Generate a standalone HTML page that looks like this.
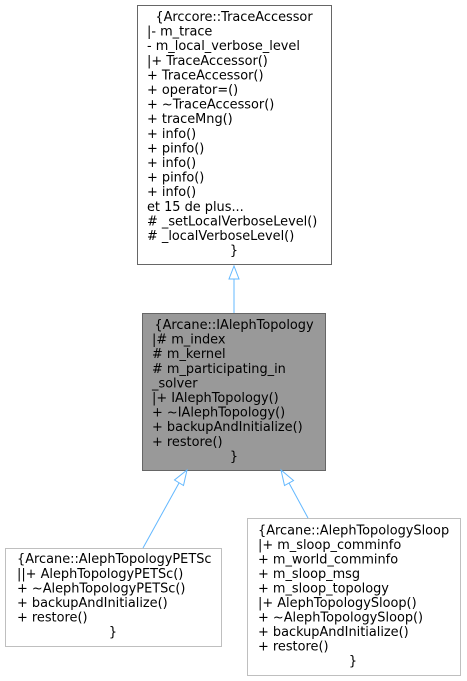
<!DOCTYPE html>
<html><head><meta charset="utf-8"><style>html,body{margin:0;padding:0;background:#fff}svg{display:block}text{font-family:"DejaVu Sans","Liberation Sans",sans-serif;font-size:12.9px;fill:#000}</style></head>
<body>
<svg width="467" height="681" viewBox="0 0 467 681" xmlns="http://www.w3.org/2000/svg">
<rect x="137.5" y="5.5" width="194" height="259" fill="#fff" stroke="#666"/>
<text x="234" y="21" text-anchor="middle">{Arccore::TraceAccessor</text>
<text x="147" y="35.6">|- m_trace</text>
<text x="147" y="50.2">- m_local_verbose_level</text>
<text x="147" y="64.8">|+ TraceAccessor()</text>
<text x="147" y="79.4">+ TraceAccessor()</text>
<text x="147" y="94">+ operator=()</text>
<text x="147" y="108.6">+ ~TraceAccessor()</text>
<text x="147" y="123.2">+ traceMng()</text>
<text x="147" y="137.8">+ info()</text>
<text x="147" y="152.4">+ pinfo()</text>
<text x="147" y="167">+ info()</text>
<text x="147" y="181.6">+ pinfo()</text>
<text x="147" y="196.2">+ info()</text>
<text x="147" y="210.8">et 15 de plus...</text>
<text x="147" y="225.4"># _setLocalVerboseLevel()</text>
<text x="147" y="240"># _localVerboseLevel()</text>
<text x="234" y="254.6" text-anchor="middle">}</text>

<rect x="142.5" y="313.5" width="183" height="157" fill="#999" stroke="#666"/>
<text x="234" y="329" text-anchor="middle">{Arcane::IAlephTopology</text>
<text x="152" y="343.6">|# m_index</text>
<text x="152" y="358.2"># m_kernel</text>
<text x="152" y="372.8"># m_participating_in</text>
<text x="152" y="387.4">_solver</text>
<text x="152" y="402">|+ IAlephTopology()</text>
<text x="152" y="416.6">+ ~IAlephTopology()</text>
<text x="152" y="431.2">+ backupAndInitialize()</text>
<text x="152" y="445.8">+ restore()</text>
<text x="234" y="460.4" text-anchor="middle">}</text>

<rect x="5.5" y="548.5" width="216" height="98" fill="#fff" stroke="#bfbfbf"/>
<text x="17" y="563">{Arcane::AlephTopologyPETSc</text>
<text x="17" y="578">||+ AlephTopologyPETSc()</text>
<text x="17" y="592.5">+ ~AlephTopologyPETSc()</text>
<text x="17" y="607">+ backupAndInitialize()</text>
<text x="17" y="621.5">+ restore()</text>
<text x="113" y="636" text-anchor="middle">}</text>

<rect x="247.5" y="518.5" width="213" height="157" fill="#fff" stroke="#bfbfbf"/>
<text x="258" y="534.5">{Arcane::AlephTopologySloop</text>
<text x="258" y="549">|+ m_sloop_comminfo</text>
<text x="258" y="563.5">+ m_world_comminfo</text>
<text x="258" y="578">+ m_sloop_msg</text>
<text x="258" y="592.5">+ m_sloop_topology</text>
<text x="258" y="607">|+ AlephTopologySloop()</text>
<text x="258" y="621.5">+ ~AlephTopologySloop()</text>
<text x="258" y="636">+ backupAndInitialize()</text>
<text x="258" y="650.5">+ restore()</text>
<text x="353" y="665" text-anchor="middle">}</text>

<g stroke="#63b8ff" fill="#fff" stroke-width="1">
<line x1="234" y1="313" x2="234" y2="279"/>
<polygon points="234,266 229,279 239,279"/>
<line x1="143" y1="548" x2="179" y2="483"/>
<polygon points="187,470 174.5,480 183.5,485.5"/>
<line x1="308" y1="518" x2="289" y2="483"/>
<polygon points="281,470 284.5,485.5 293.5,480.5"/>
</g>
</svg>
</body></html>
